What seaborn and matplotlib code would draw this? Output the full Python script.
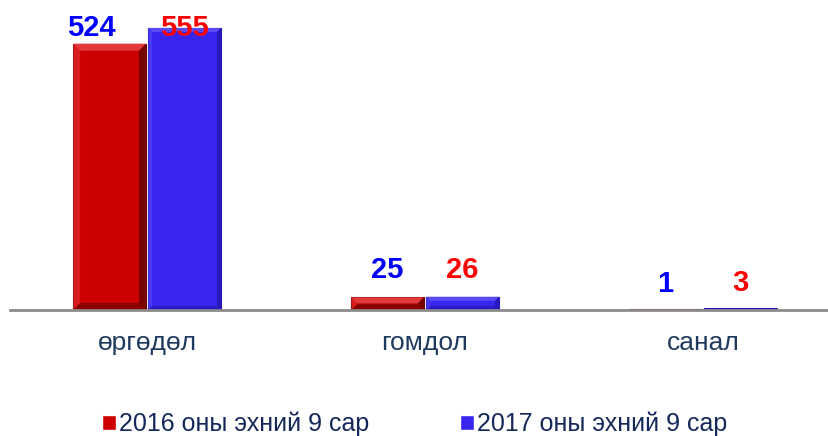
import matplotlib
matplotlib.use("Agg")
import matplotlib.pyplot as plt
from matplotlib.patches import Polygon
import seaborn as sns
import pandas as pd

# data
categories = ['өргөдөл', 'гомдол', 'санал']
periods = ['2016 оны эхний 9 сар', '2017 оны эхний 9 сар']
values_2016 = [524, 25, 1]
values_2017 = [555, 26, 3]

df = pd.DataFrame({
    'category': categories * 2,
    'period': [periods[0]] * 3 + [periods[1]] * 3,
    'count': values_2016 + values_2017,
})

sns.set_style('white')
plt.rcParams['font.family'] = ['Liberation Sans', 'DejaVu Sans']

bar_colors = ['#CC0000', '#3826EE']
light_colors = ['#E23A3A', '#5A4BF4']
dark_colors = ['#6E0000', '#2718B8']
label_colors = ['#0000FF', '#FF0000']
# label offsets from bar top, in pixels (first group was placed by hand)
label_offsets = [(8, -8), (19, 19), (17, 17)]
label_shift_x = [(-18, 0), (0, 0), (0, 0)]
navy = '#1F3A5F'

fig = plt.figure(figsize=(8.29, 4.36), dpi=100)
ax = fig.add_axes([10 / 829, 126 / 436, 819 / 829, 310 / 436])

sns.barplot(data=df, x='category', y='count', hue='period', order=categories,
            hue_order=periods, palette=bar_colors, saturation=1,
            width=0.54, gap=0.03, ax=ax)

ax.set_ylim(0, 610)
ax.set_xlim(-0.493, 2.453)

# data units per pixel
px_x = (2.453 + 0.493) / 819
px_y = 610 / 310


def bevel(bar, light, dark, d=7):
    x0, y0 = bar.get_x(), bar.get_y()
    x1, y1 = x0 + bar.get_width(), y0 + bar.get_height()
    hpx = bar.get_height() / px_y
    if hpx < 3:
        return
    dpx = min(d, hpx / 2)
    dx, dy = dpx * px_x, dpx * px_y
    faces = [
        ([(x0, y1), (x1, y1), (x1 - dx, y1 - dy), (x0 + dx, y1 - dy)], light, 1),
        ([(x1, y1), (x1, y0), (x1 - dx, y0 + dy), (x1 - dx, y1 - dy)], dark, 0.9),
        ([(x0, y0), (x1, y0), (x1 - dx, y0 + dy), (x0 + dx, y0 + dy)], dark, 0.7),
        ([(x0, y0), (x0, y1), (x0 + dx, y1 - dy), (x0 + dx, y0 + dy)], light, 0.5),
    ]
    for pts, c, a in faces:
        ax.add_patch(Polygon(pts, closed=True, facecolor=c, edgecolor='none',
                             alpha=a, zorder=bar.get_zorder() + 0.1))


for i, cont in enumerate(ax.containers):
    for j, bar in enumerate(cont):
        bar.set_edgecolor(dark_colors[i])
        bar.set_linewidth(0.8)
        bevel(bar, light_colors[i], dark_colors[i], d=7 if i == 0 else 4)
        val = bar.get_height()
        ax.annotate(f'{val:.0f}', (bar.get_x() + bar.get_width() / 2, val),
                    xytext=(label_shift_x[j][i] * 0.72, label_offsets[j][i] * 0.72),
                    textcoords='offset points',
                    ha='center', va='baseline', fontsize=21, fontweight='bold',
                    color=label_colors[i])

ax.set_xlabel('')
ax.set_ylabel('')
ax.set_yticks([])
for s in ['left', 'right', 'top']:
    ax.spines[s].set_visible(False)
ax.spines['bottom'].set_color('#8C8C8C')
ax.spines['bottom'].set_linewidth(2)
ax.tick_params(axis='x', length=0, pad=15, labelsize=19, labelcolor=navy)

handles, labels = ax.get_legend_handles_labels()
ax.get_legend().remove()
fig.legend(handles, labels, loc='center', bbox_to_anchor=(0.5, 1 - 424 / 436),
           ncol=2, frameon=False, fontsize=18, handlelength=0.56, handleheight=0.56,
           handletextpad=0.12, columnspacing=3.65, labelcolor='#14285A')

fig.savefig('out.png', dpi=100)
